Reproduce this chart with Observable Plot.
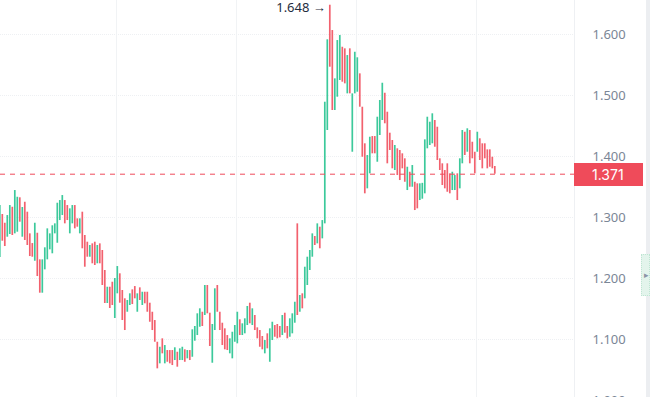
<!DOCTYPE html>
<html>
<head>
<meta charset="utf-8">
<script src="https://cdn.jsdelivr.net/npm/d3@7"></script>
<script src="https://cdn.jsdelivr.net/npm/@observablehq/plot@0.6"></script>
<style>
  html, body { margin: 0; padding: 0; background: #fff; overflow: hidden; }
  #wrap { position: relative; width: 650px; height: 397px; font-family: Inter, Roboto, "Noto Sans", sans-serif; }
  #wrap svg { display: block; }
  .lastbox { position: absolute; background: #ef4b5a; color: #fff; font-size: 14px; display: flex; align-items: center; box-sizing: border-box; padding-left: 18px; }
  .strip { position: absolute; top: 0; right: 0; width: 4px; height: 397px; background: #eceef1; }
  .handle { position: absolute; right: 0; width: 9px; height: 42px; background: #e3f4ec; border: 1px dotted #bfe5d3; box-sizing: border-box; color: #8a94a6; font-size: 9px; display: flex; align-items: center; justify-content: flex-end; }
</style>
</head>
<body>
<div id="wrap"></div>
<script>
// Candle opens and closes (one entry per candle, oldest first)
const opens = [
  1.2344,1.3049,1.2906,1.2677,1.2721,1.3168,1.2732,1.2759,1.3323,1.2677,
  1.3250,1.3087,1.2732,1.2573,1.2283,1.2742,1.2306,1.1759,1.2142,1.2306,
  1.2470,1.2405,1.2732,1.2578,1.2950,1.3032,1.3278,1.3196,1.2732,1.2896,
  1.3196,1.2978,1.2732,1.3087,1.2705,1.2595,1.2349,1.2568,1.2595,1.2241,
  1.2568,1.2459,1.2131,1.1590,1.1857,1.1939,1.1344,1.1749,1.2077,1.1803,
  1.1667,1.1447,1.1557,1.1814,1.1868,1.1447,1.1847,1.1557,1.1775,1.1775,
  1.1595,1.1447,1.1311,1.0955,1.0601,1.1011,1.0601,1.0819,1.0819,1.0819,
  1.0655,1.0791,1.0655,1.0655,1.0831,1.0683,1.0819,1.0709,1.0972,1.1065,
  1.1201,1.1447,1.1393,1.1885,1.1431,1.0611,1.1147,1.1885,1.1447,1.1267,
  1.1175,1.1065,1.0765,1.0683,1.0955,1.0929,1.1323,1.1065,1.1093,1.1229,
  1.1595,1.1229,1.1393,1.1191,1.1147,1.1049,1.0765,1.1093,1.0627,1.0983,
  1.1229,1.1246,1.1213,1.1065,1.1431,1.1213,1.1037,1.1093,1.1267,1.2896,
  1.1447,1.1749,1.1667,1.1885,1.2131,1.2349,1.2688,1.2568,1.2841,1.2650,
  1.2896,1.4426,1.6480,1.6065,1.4754,1.4972,1.5246,1.5791,1.5765,1.5027,
  1.5765,1.4070,1.5027,1.5054,1.5355,1.4808,1.4208,1.3470,1.3716,1.4327,
  1.4327,1.3906,1.4344,1.4590,1.5037,1.4726,1.4382,1.4262,1.3770,1.4126,
  1.4098,1.4044,1.3962,1.3442,1.3742,1.3496,1.3578,1.3552,1.3278,1.3300,
  1.3388,1.4126,1.4180,1.4208,1.4590,1.4480,1.3962,1.3880,1.3770,1.3880,
  1.3716,1.3442,1.3442,1.3716,1.3470,1.3880,1.4398,1.4070,1.4426,1.4234,
  1.4070,1.4070,1.4290,1.4208,1.4208,1.4109,1.4109,1.3988,1.3836
];
const closes = [
  1.3196,1.2611,1.2524,1.3032,1.3196,1.2705,1.3442,1.3332,1.2923,1.3164,
  1.2623,1.2541,1.2360,1.2349,1.2906,1.2032,1.1759,1.2306,1.2503,1.2814,
  1.2732,1.2864,1.2896,1.3234,1.3278,1.3360,1.2896,1.2950,1.3142,1.3196,
  1.2814,1.2841,1.2978,1.2487,1.2185,1.2349,1.2541,1.2241,1.2213,1.2541,
  1.2241,1.1885,1.1590,1.1857,1.1508,1.1557,1.2000,1.2196,1.1595,1.1311,
  1.1147,1.1639,1.1749,1.1573,1.1667,1.1749,1.1639,1.1775,1.1585,1.1447,
  1.1283,1.1147,1.0955,1.0519,1.0873,1.0765,1.0901,1.0627,1.0601,1.0573,
  1.0864,1.0546,1.0847,1.0873,1.0627,1.0819,1.0655,1.1159,1.1213,1.1421,
  1.1503,1.1213,1.1885,1.1421,1.0885,1.1246,1.1831,1.1447,1.1147,1.0901,
  1.0831,1.0819,1.1011,1.1119,1.1229,1.1447,1.1065,1.1257,1.1339,1.1541,
  1.1257,1.1503,1.1147,1.1011,1.0873,1.0831,1.0983,1.0847,1.1175,1.1283,
  1.1037,1.1011,1.1027,1.1393,1.1103,1.1011,1.1339,1.1421,1.1611,1.1393,
  1.1721,1.1503,1.2185,1.2349,1.2459,1.2732,1.2541,1.2896,1.2487,1.2950,
  1.4890,1.5913,1.5464,1.4754,1.5273,1.5901,1.5983,1.5218,1.5191,1.5655,
  1.5027,1.5027,1.5709,1.5618,1.4808,1.3988,1.3388,1.4016,1.4316,1.4044,
  1.4044,1.4644,1.4918,1.5201,1.4536,1.3880,1.4098,1.3798,1.4180,1.3688,
  1.3606,1.3798,1.3578,1.3824,1.3496,1.3852,1.3114,1.3142,1.3552,1.3560,
  1.4273,1.4644,1.4562,1.4700,1.4152,1.3934,1.3770,1.3524,1.3470,1.3414,
  1.3388,1.3742,1.3688,1.3278,1.3962,1.4426,1.4016,1.4454,1.3880,1.3962,
  1.3716,1.4398,1.3934,1.3798,1.3962,1.3798,1.3824,1.3798,1.3710
];
// Axis ticks and annotations
const yTicks = [1.0, 1.1, 1.2, 1.3, 1.4, 1.5, 1.6];
const timeGrid = [46.7, 94.7, 142.7, 190.7]; // vertical grid positions, in candle units
const lastPrice = 1.371;
const peak = {i: 132, value: 1.648, label: "1.648 →"};

const GREEN = "#3cc99b", RED = "#f2616e";
const candles = opens.map((o, i) => ({i, open: o, close: closes[i]}));

const plot = Plot.plot({
  width: 650,
  height: 397,
  marginTop: 0, marginBottom: 0, marginLeft: 0, marginRight: 76,
  style: {overflow: "visible", background: "#fff"},
  x: {domain: [0.28, 229.88], axis: null},
  y: {domain: [1.00492, 1.65574], ticks: yTicks, tickFormat: d3.format(".3f")},
  marks: [
    Plot.ruleY(yTicks, {stroke: "#eef0f3", strokeDasharray: "1,1"}),
    Plot.ruleX(timeGrid, {stroke: "#f1f3f5"}),
    Plot.frame({anchor: "right", stroke: "#eef0f3"}),
    Plot.ruleX(candles, {
      x: "i", y1: "open", y2: "close",
      stroke: d => d.close >= d.open ? GREEN : RED,
      strokeWidth: 1.7
    }),
    Plot.ruleY([lastPrice], {stroke: "#ef4b5a", strokeDasharray: "5,5", strokeWidth: 1}),
    Plot.axisY({
      anchor: "right", ticks: yTicks, tickSize: 0, tickPadding: 18,
      tickFormat: d3.format(".3f"), fontSize: 13, fill: "#7b8696",
      textAnchor: "start"
    }),
    Plot.text([peak], {
      x: "i", y: "value", text: "label", textAnchor: "end", dx: -4, dy: 3,
      fontSize: 13, fill: "#1f2d40"
    })
  ]
});

const wrap = document.getElementById("wrap");
wrap.appendChild(plot);

const ys = plot.scale("y");
const yLast = ys.apply(lastPrice);
const box = document.createElement("div");
box.className = "lastbox";
box.style.left = "574px";
box.style.width = "69px";
box.style.height = "23px";
box.style.top = (yLast - 11) + "px";
box.textContent = d3.format(".3f")(lastPrice);
wrap.appendChild(box);

const strip = document.createElement("div");
strip.className = "strip";
wrap.appendChild(strip);
const handle = document.createElement("div");
handle.className = "handle";
handle.style.top = ys.apply(1.24) + "px";
handle.textContent = "▸";
wrap.appendChild(handle);
</script>
</body>
</html>
